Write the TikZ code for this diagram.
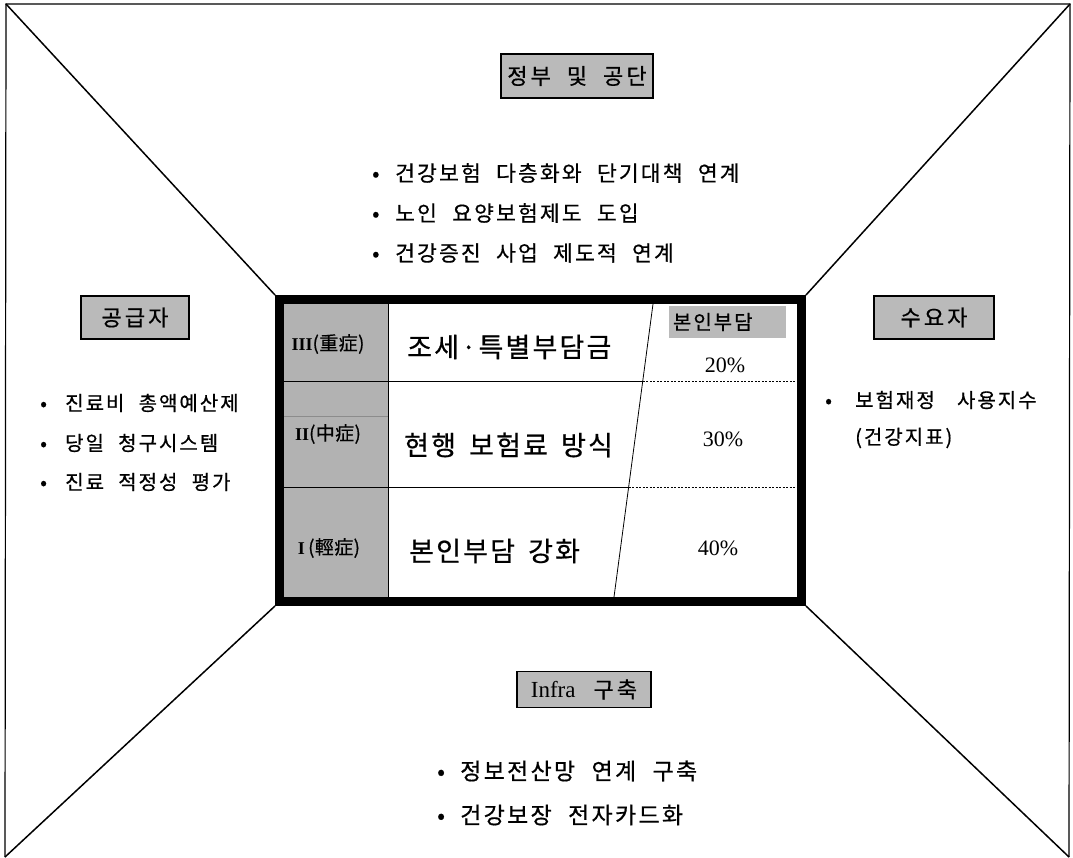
\documentclass[tikz,border=0pt]{standalone}
\usepackage{fontspec}
\setmainfont{Liberation Serif}
\newfontfamily\kr[LetterSpace=10,WordSpace=2.2,FakeBold=0.6]{Noto Sans CJK KR}
\newfontfamily\krm[LetterSpace=8,WordSpace=1.6,FakeBold=0.6]{Noto Sans CJK KR}
\newfontfamily\krt[LetterSpace=14,WordSpace=2,FakeBold=0.6]{Noto Sans CJK KR}
\newfontfamily\krl[LetterSpace=2,FakeBold=0.6]{Noto Sans CJK KR}
\begin{document}
\begin{tikzpicture}[x=1pt,y=-1pt,
  frameline/.style={line width=1.2pt},
  diag/.style={line width=1.5pt},
  title/.style={draw, line width=1.6pt, fill=black!27, inner sep=0pt, font=\krt\fontsize{22}{22}\selectfont},
  bul/.style={anchor=west, inner sep=0pt, font=\kr\fontsize{21.5}{26}\selectfont},
  bulsm/.style={anchor=west, inner sep=0pt, font=\kr\fontsize{20}{24}\selectfont},
  bulbg/.style={anchor=west, inner sep=0pt, font=\kr\fontsize{23}{27}\selectfont},
  midtxt/.style={anchor=west, inner sep=0pt, font=\krm\fontsize{27}{30}\selectfont},
  rowlab/.style={inner sep=0pt, font=\krl\fontsize{19}{21}\selectfont},
  pct/.style={inner sep=0pt, font=\fontsize{22}{24}\selectfont},
  hdrbox/.style={fill=black!27, inner sep=4pt, minimum height=32pt, font=\kr\fontsize{20}{22}\selectfont},
  grid/.style={line width=0.8pt},
  dgrid/.style={line width=0.8pt, dash pattern=on 2pt off 1.5pt}
]
\useasboundingbox (0,0) rectangle (1073,858);
% frame corners
\coordinate (TL) at (6,4);
\coordinate (TR) at (1070,4);
\coordinate (BL) at (5,857);
\coordinate (BR) at (1069,857);
\draw[frameline] (BL) -- (TL) -- (TR) -- (BR);

% table internals
\fill[black!30] (284,304) rectangle (388,597);
\coordinate (cvT) at (388,304);
\coordinate (cvB) at (388,597);
\coordinate (st) at (653,304);
\coordinate (sb) at (614,597);
\coordinate (r1L) at (284,381);
\coordinate (r1S) at (642.8,381);
\coordinate (r1R) at (797,381);
\coordinate (r2L) at (284,487);
\coordinate (r2S) at (628.6,487);
\coordinate (r2R) at (797,487);
\coordinate (gfL) at (284,416);
\coordinate (gfR) at (388,416);
\draw[black!45, line width=0.6pt] (gfL) -- (gfR);
\draw[grid] (cvT) -- (cvB);
\draw[grid] (st) -- (sb);
\draw[grid] (r1L) -- (r1S);
\draw[dgrid] (r1S) -- (r1R);
\draw[grid] (r2L) -- (r2S);
\draw[dgrid] (r2S) -- (r2R);

\node[draw, line width=9pt, minimum width=522pt, minimum height=302pt, inner sep=0pt] (tbl) at (540.5,450.5) {};

% diagonals
\draw[diag] (TL) -- (tbl.north west);
\draw[diag] (TR) -- (tbl.north east);
\draw[diag] (BL) -- (tbl.south west);
\draw[diag] (BR) -- (tbl.south east);

% row labels
\node[rowlab] (l3) at (328,344) {{\rmfamily\bfseries\fontsize{18}{20}\selectfont III}(重症)};
\node[rowlab] (l2) at (328,434) {{\rmfamily\bfseries\fontsize{18}{20}\selectfont II}(中症)};
\node[rowlab] (l1) at (329,548) {{\rmfamily\bfseries\fontsize{18}{20}\selectfont I}\,(輕症)};

% middle texts
\node[midtxt] (m3) at (407,347) {조세·특별부담금};
\node[midtxt] (m2) at (404,445) {현행 보험료 방식};
\node[midtxt] (m1) at (409,551) {본인부담 강화};

% header and percentages
\node[hdrbox] (hdr) at (727.5,322) {\makebox[109pt][l]{본인부담}};
\node[pct] (p3) at (725,365) {20\%};
\node[pct] (p2) at (723,439) {30\%};
\node[pct] (p1) at (718,548) {40\%};

% title boxes
\node[title, minimum width=152pt, minimum height=44pt] (gov) at (577,76) {정부 및 공단};
\node[title, minimum width=108pt, minimum height=43pt] (sup) at (135,317.5) {공급자};
\node[title, minimum width=120pt, minimum height=43pt] (dem) at (934,317.5) {수요자};
\node[title, minimum width=134pt, minimum height=36pt] (inf) at (584,689.5) {{\rmfamily\fontsize{23}{23}\selectfont Infra}\hspace{2pt} 구축};

% top bullets
\node[bul] (g1) at (372,173) {\makebox[23pt][l]{•}건강보험 다층화와 단기대책 연계};
\node[bul] (g2) at (372,213) {\makebox[23pt][l]{•}노인 요양보험제도 도입};
\node[bul] (g3) at (372,253) {\makebox[23pt][l]{•}건강증진 사업 제도적 연계};

% left bullets
\node[bulsm] (s1) at (40,403) {\makebox[25pt][l]{•}진료비 총액예산제};
\node[bulsm] (s2) at (40,443) {\makebox[25pt][l]{•}당일 청구시스템};
\node[bulsm] (s3) at (40,482) {\makebox[25pt][l]{•}진료 적정성 평가};

% right bullets
\node[bulsm] (d1) at (825,400) {\makebox[30pt][l]{•}보험재정\hspace{8pt} 사용지수};
\node[bulsm] (d2) at (855,438) {(건강지표)};

% bottom bullets
\node[bulbg] (i1) at (437,771) {\makebox[23pt][l]{•}정보전산망 연계 구축};
\node[bulbg] (i2) at (437,815) {\makebox[23pt][l]{•}건강보장 전자카드화};
\end{tikzpicture}
\end{document}
